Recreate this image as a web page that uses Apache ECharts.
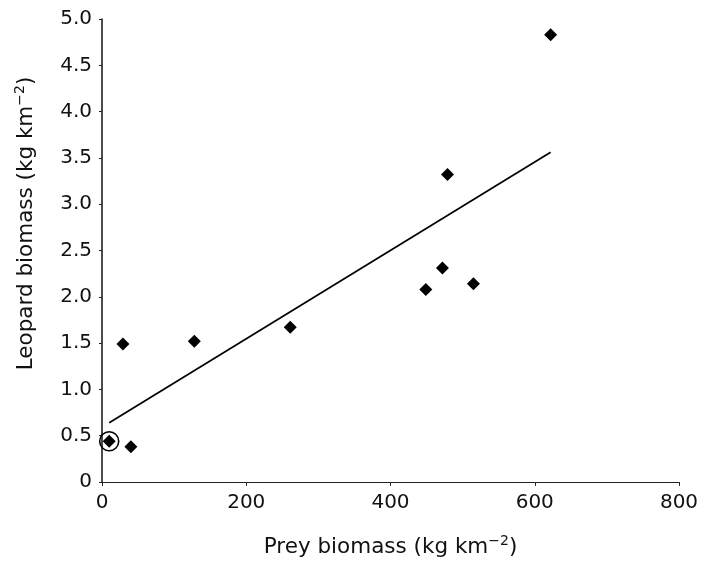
<!DOCTYPE html>
<html>
<head>
<meta charset="utf-8">
<script src="https://cdn.jsdelivr.net/npm/echarts@6/dist/echarts.min.js"></script>
<style>
html,body{margin:0;padding:0;background:#fff;}
#chart{width:707px;height:563px;}
</style>
</head>
<body>
<div id="chart"></div>
<script>
// Data
var preyBiomass    = [10, 29, 40, 128, 261, 449, 472, 479, 515, 622];
var leopardBiomass = [0.44, 1.49, 0.38, 1.52, 1.67, 2.08, 2.31, 3.32, 2.14, 4.83];
var circledX = [10];
var circledY = [0.44];
var fitX = [10, 622];
var fitY = [0.64, 3.56];
var xTickLabels = ['0', '200', '400', '600', '800'];
var yTickLabels = ['0', '0.5', '1.0', '1.5', '2.0', '2.5', '3.0', '3.5', '4.0', '4.5', '5.0'];

function zip(a, b) { return a.map(function (v, i) { return [v, b[i]]; }); }

var font = '"DejaVu Sans", "Liberation Sans", Arial, sans-serif';
var chart = echarts.init(document.getElementById('chart'), null, {renderer: 'canvas'});
chart.setOption({
  backgroundColor: '#fff',
  animation: false,
  grid: {left: 102, right: 28, top: 19, bottom: 81, containLabel: false},
  xAxis: {
    type: 'value', min: 0, max: 800, interval: 200,
    name: 'Prey biomass (kg km{sup|−2})',
    nameLocation: 'middle', nameGap: 52,
    nameTextStyle: {fontFamily: font, fontSize: 21.5, color: '#111',
      rich: {sup: {fontFamily: font, fontSize: 14, color: '#111', padding: [0, 0, 12, 0]}}},
    axisLine: {onZero: false, lineStyle: {color: '#222', width: 1}},
    axisTick: {show: true, inside: false, length: 4, lineStyle: {color: '#222'}},
    axisLabel: {fontFamily: font, fontSize: 20, color: '#111', margin: 11,
      formatter: function (v) { return xTickLabels[Math.round(v / 200)]; }},
    splitLine: {show: false}
  },
  yAxis: {
    type: 'value', min: 0, max: 5, interval: 0.5,
    name: 'Leopard biomass (kg km{sup|−2})',
    nameLocation: 'middle', nameGap: 63, nameRotate: 90,
    nameTextStyle: {fontFamily: font, fontSize: 21.5, color: '#111', padding: [0, 0, 0, 54],
      rich: {sup: {fontFamily: font, fontSize: 14, color: '#111', padding: [0, 0, 12, 0]}}},
    axisLine: {onZero: false, lineStyle: {color: '#111', width: 1.5}},
    axisTick: {show: true, inside: false, length: 3, lineStyle: {color: '#222'}},
    axisLabel: {fontFamily: font, fontSize: 20, color: '#111', margin: 10,
      formatter: function (v) { return yTickLabels[Math.round(v / 0.5)]; }},
    splitLine: {show: false}
  },
  series: [
    {
      type: 'line', data: zip(fitX, fitY), symbol: 'none',
      lineStyle: {color: '#000', width: 1.7}, z: 2
    },
    {
      type: 'scatter', data: zip(preyBiomass, leopardBiomass),
      symbol: 'diamond', symbolSize: [13, 13],
      itemStyle: {color: '#000', opacity: 1}, z: 3
    },
    {
      type: 'scatter', data: zip(circledX, circledY),
      symbol: 'circle', symbolSize: 19,
      itemStyle: {color: 'rgba(0,0,0,0)', borderColor: '#000', borderWidth: 1.6, opacity: 1}, z: 4
    }
  ]
});
</script>
</body>
</html>
